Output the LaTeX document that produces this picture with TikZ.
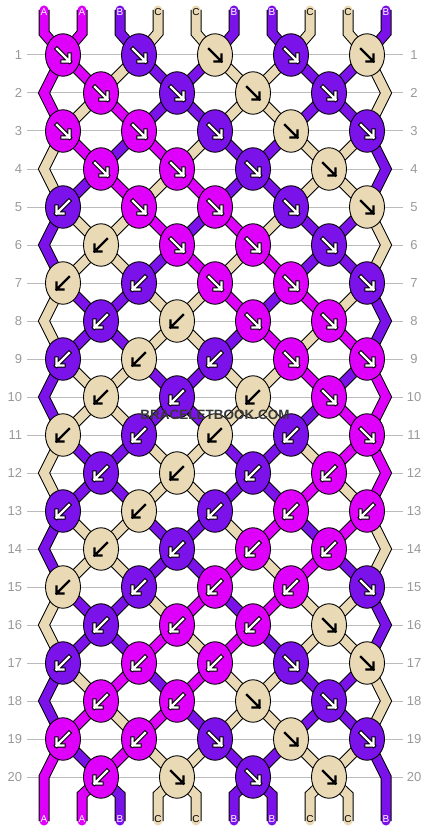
\documentclass[tikz,border=0pt]{standalone}
\usepackage{fontspec}
\setmainfont{Liberation Sans}
\usepackage{xcolor}
\usepackage{tikz}
\usetikzlibrary{positioning}
\usetikzlibrary{shapes.geometric}

\definecolor{colA}{HTML}{DF00FB}
\definecolor{colB}{HTML}{7B12EA}
\definecolor{colC}{HTML}{EAD9B5}
\colorlet{tipA}{white}
\colorlet{tipB}{white}
\colorlet{tipC}{black}
\colorlet{rimA}{black}
\colorlet{rimB}{black}
\colorlet{rimC}{colC}
\definecolor{rowgray}{HTML}{BBBBBB}
\definecolor{numgray}{HTML}{999999}

\pgfdeclarelayer{rows}
\pgfdeclarelayer{threads}
\pgfsetlayers{rows,threads,main}

\begin{document}
\begin{tikzpicture}
  [x=1pt, y=-1pt,
   knot/.style = {ellipse, draw, line width=0.9pt, minimum width=35pt, minimum height=42.5pt, inner sep=0pt},
   thread/.style = {line width=9pt, line cap=round, preaction={draw=black, line width=11pt}},
   num/.style = {text=numgray, font=\fontsize{13}{13}\selectfont, inner sep=0pt, outer sep=0pt},
   tag/.style = {font=\fontsize{10}{10}\selectfont, inner sep=0pt},
   rowline/.style = {rowgray, line width=1pt},
   arrowrim/.style = {line width=4.4pt, line cap=rect},
   arrowtip/.style = {line width=2.4pt, line cap=rect},
   stamp/.style = {text=black!78, font=\bfseries\fontsize{13.5}{13.5}\selectfont},
   pics/knotarrow/.style = {code={
       \draw[arrowrim, draw=rim#1] (-6,-6) -- (6.5,6.5) (-0.5,6.5) -- (6.5,6.5) -- (6.5,-0.5);
       \draw[arrowtip, draw=tip#1] (-6,-6) -- (6.5,6.5) (-0.5,6.5) -- (6.5,6.5) -- (6.5,-0.5);}}]
  \useasboundingbox (0,0) rectangle (430,832);

  % row numbers and guide lines
  \foreach \r in {1,...,20} {
    \node[num, anchor=east, inner xsep=5pt] (nl\r) at (27, 17+38*\r) {\r};
    \node[num, minimum width=22pt] (nr\r) at (414, 17+38*\r) {\r};
    \begin{pgfonlayer}{rows}
      \draw[rowline] (nl\r) -- (nr\r);
    \end{pgfonlayer}
  }

  % knots, row by row (colour / 1 = forward, -1 = backward)
  \foreach \r/\knots in {
      1/{A/1,B/1,C/1,B/1,C/1},
      2/{A/1,B/1,C/1,B/1},
      3/{A/1,A/1,B/1,C/1,B/1},
      4/{A/1,A/1,B/1,C/1},
      5/{B/-1,A/1,A/1,B/1,C/1},
      6/{C/-1,A/1,A/1,B/1},
      7/{C/-1,B/-1,A/1,A/1,B/1},
      8/{B/-1,C/-1,A/1,A/1},
      9/{B/-1,C/-1,B/-1,A/1,A/1},
      10/{C/-1,B/-1,C/-1,A/1},
      11/{C/-1,B/-1,C/-1,B/-1,A/1},
      12/{B/-1,C/-1,B/-1,A/-1},
      13/{B/-1,C/-1,B/-1,A/-1,A/-1},
      14/{C/-1,B/-1,A/-1,A/-1},
      15/{C/-1,B/-1,A/-1,A/-1,B/1},
      16/{B/-1,A/-1,A/-1,C/1},
      17/{B/-1,A/-1,A/-1,B/1,C/1},
      18/{A/-1,A/-1,C/1,B/1},
      19/{A/-1,A/-1,B/1,C/1,B/1},
      20/{A/-1,C/1,B/1,C/1}} {
    \foreach \c/\d [count=\k] in \knots {
      \node[knot, fill=col\c] (k\r-\k) at ({76*\k-13+38*(1-mod(\r,2))}, {17+38*\r}) {};
      \pic[xscale=\d] at (k\r-\k) {knotarrow=\c};
    }
  }

  % string ends and turning points at the edges
  \foreach \p in {1,...,10} {
    \coordinate (top\p) at (6+38*\p, 10);
    \coordinate (bend\p) at (6+38*\p, 33);
    \coordinate (low\p) at (6+38*\p, 795);
    \coordinate (end\p) at (6+38*\p, 821);
  }
  \foreach \r in {2,4,...,20} {
    \coordinate (eL\r) at (44, 17+38*\r);
    \coordinate (eR\r) at (386, 17+38*\r);
  }

  % strings
  \begin{pgfonlayer}{threads}
    \draw[thread, colA] (top1) -- (bend1) -- (k1-1.center) -- (k9-5.center) -- (eR10) -- (k11-5.center) -- (k19-1.center) -- (eL20) -- (end1);
    \draw[thread, colA] (top2) -- (bend2) -- (k1-1.center) -- (eL2) -- (k3-1.center) -- (k11-5.center) -- (eR12) -- (k13-5.center) -- (k20-1.center) -- (low2) -- (end2);
    \draw[thread, colB] (top3) -- (bend3) -- (k1-2.center) -- (k7-5.center) -- (eR8) -- (k9-5.center) -- (k17-1.center) -- (eL18) -- (k19-1.center) -- (k20-1.center) -- (low3) -- (end3);
    \draw[thread, colC] (top4) -- (bend4) -- (k1-2.center) -- (k3-1.center) -- (eL4) -- (k5-1.center) -- (k13-5.center) -- (eR14) -- (k15-5.center) -- (k20-2.center) -- (low4) -- (end4);
    \draw[thread, colC] (top5) -- (bend5) -- (k1-3.center) -- (k5-5.center) -- (eR6) -- (k7-5.center) -- (k15-1.center) -- (eL16) -- (k17-1.center) -- (k20-2.center) -- (low5) -- (end5);
    \draw[thread, colB] (top6) -- (bend6) -- (k1-3.center) -- (k5-1.center) -- (eL6) -- (k7-1.center) -- (k15-5.center) -- (eR16) -- (k17-5.center) -- (k20-3.center) -- (low6) -- (end6);
    \draw[thread, colB] (top7) -- (bend7) -- (k1-4.center) -- (k3-5.center) -- (eR4) -- (k5-5.center) -- (k13-1.center) -- (eL14) -- (k15-1.center) -- (k20-3.center) -- (low7) -- (end7);
    \draw[thread, colC] (top8) -- (bend8) -- (k1-4.center) -- (k7-1.center) -- (eL8) -- (k9-1.center) -- (k17-5.center) -- (eR18) -- (k19-5.center) -- (k20-4.center) -- (low8) -- (end8);
    \draw[thread, colC] (top9) -- (bend9) -- (k1-5.center) -- (eR2) -- (k3-5.center) -- (k11-1.center) -- (eL12) -- (k13-1.center) -- (k20-4.center) -- (low9) -- (end9);
    \draw[thread, colB] (top10) -- (bend10) -- (k1-5.center) -- (k9-1.center) -- (eL10) -- (k11-1.center) -- (k19-5.center) -- (eR20) -- (end10);
  \end{pgfonlayer}

  % string letters
  \foreach \p/\s in {1/A,2/A,3/B,4/C,5/C,6/B,7/B,8/C,9/C,10/B} {
    \node[tag, text=tip\s] (in\p) at (6+38*\p, 12.5) {\s};
    \node[tag, text=tip\s] (out\p) at (6+38*\p, 819.5) {\s};
  }

  \node[stamp] (site) at (215,415) {BRACELETBOOK.COM};
\end{tikzpicture}
\end{document}
